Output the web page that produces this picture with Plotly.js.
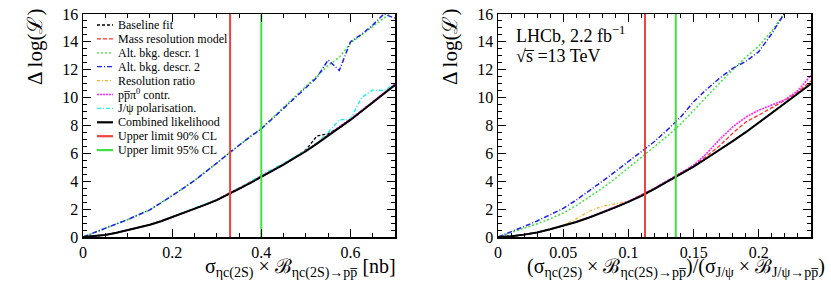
<!DOCTYPE html>
<html><head><meta charset="utf-8">
<script src="https://cdn.plot.ly/plotly-3.0.1.min.js"></script>
<style>html,body{margin:0;padding:0;background:#fff}</style>
</head><body><div id="chart" style="width:831px;height:282px"></div>
<script>
// ---------- data: left panel (sigma x B [nb]) ----------
const leftX = [0,0.025,0.05,0.075,0.1,0.125,0.15,0.175,0.2,0.225,0.25,0.275,0.3,0.325,0.35,0.375,0.4,0.425,0.45,0.475,0.5,0.525,0.55,0.575,0.6,0.625,0.65,0.675,0.7];
const leftCombined   = [0,0.05,0.15,0.3,0.48,0.67,0.88,1.13,1.42,1.7,2.0,2.32,2.65,3.03,3.45,3.87,4.3,4.75,5.2,5.67,6.15,6.7,7.25,7.82,8.4,9.02,9.65,10.27,10.9];
const leftBaseline   = [0,0.05,0.15,0.3,0.48,0.67,0.88,1.13,1.42,1.7,2.0,2.32,2.65,3.03,3.45,3.87,4.3,4.75,5.2,5.7,6.25,7.25,7.4,7.85,8.4,9.02,9.65,10.27,10.9];
const leftMassRes    = [0,0.05,0.15,0.3,0.48,0.67,0.88,1.13,1.42,1.7,2.0,2.32,2.68,3.1,3.5,3.9,4.33,4.77,5.22,5.69,6.17,6.72,7.28,7.85,8.43,9.05,9.68,10.3,10.95];
const leftAltBkg1    = [0,0.3,0.6,0.9,1.25,1.6,1.95,2.45,2.95,3.5,4.05,4.65,5.3,5.95,6.6,7.2,7.8,8.55,9.3,10.05,10.75,11.5,12.3,12.9,13.9,14.5,15.1,15.7,16.3];
const leftAltBkg2    = [0,0.3,0.6,0.9,1.25,1.6,1.95,2.45,2.95,3.5,4.05,4.65,5.3,5.95,6.6,7.2,7.75,8.5,9.25,10.0,10.7,11.45,12.7,11.95,14.0,14.55,15.2,16.0,15.7];
const leftResRatio   = [0,0.05,0.15,0.3,0.48,0.67,0.88,1.13,1.42,1.7,2.0,2.32,2.65,3.05,3.47,3.9,4.33,4.77,5.22,5.69,6.17,6.72,7.27,7.84,8.42,9.04,9.67,10.3,10.95];
const leftPpPi0      = [0,0.05,0.15,0.3,0.48,0.67,0.88,1.13,1.42,1.7,2.0,2.33,2.67,3.05,3.47,3.9,4.33,4.78,5.23,5.7,6.18,6.73,7.3,7.87,8.45,9.07,9.7,10.33,10.98];
const leftJpsiPol    = [0,0.05,0.15,0.3,0.48,0.67,0.88,1.15,1.45,1.73,2.03,2.35,2.68,3.07,3.5,3.95,4.45,4.85,5.28,5.75,6.2,6.75,7.5,8.4,8.45,10.0,10.55,10.5,10.95];
const leftLimit90 = 0.33, leftLimit95 = 0.40;

// ---------- data: right panel (ratio to J/psi) ----------
const rightX = [0,0.01,0.02,0.03,0.04,0.05,0.06,0.07,0.08,0.09,0.1,0.11,0.12,0.13,0.14,0.15,0.16,0.17,0.18,0.19,0.2,0.21,0.22,0.23,0.24];
const rightCombined  = [0,0.05,0.17,0.33,0.55,0.8,1.08,1.4,1.75,2.13,2.52,2.95,3.45,3.98,4.5,5.05,5.65,6.25,6.88,7.52,8.2,8.9,9.6,10.3,11.0];
const rightBaseline  = [0,0.05,0.17,0.33,0.55,0.8,1.08,1.4,1.75,2.13,2.52,2.95,3.45,3.98,4.5,5.05,5.65,6.25,6.88,7.52,8.2,8.9,9.6,10.3,11.0];
const rightMassRes   = [0,0.05,0.17,0.33,0.55,0.8,1.08,1.4,1.75,2.13,2.55,3.0,3.5,4.02,4.55,5.12,5.8,6.55,7.45,8.25,8.75,9.25,9.8,10.4,11.2];
const rightAltBkg1   = [0,0.3,0.6,0.95,1.3,1.72,2.25,2.85,3.5,4.2,4.95,5.7,6.5,7.25,8.1,9.1,10.05,11.05,12.0,12.9,13.7,14.8,16.1,null,null];
const rightAltBkg2   = [0,0.35,0.75,1.15,1.6,2.05,2.65,3.3,4.0,4.7,5.4,6.1,6.85,7.7,8.6,9.7,10.6,11.4,12.1,12.6,13.3,14.6,16.1,null,null];
const rightResRatio  = [0,0.05,0.17,0.33,0.55,0.85,1.3,1.85,2.2,2.35,2.55,2.97,3.46,3.98,4.5,5.05,5.65,6.25,6.88,7.52,8.2,8.9,9.6,10.3,11.0];
const rightPpPi0     = [0,0.05,0.17,0.33,0.55,0.8,1.08,1.42,1.78,2.17,2.57,3.0,3.5,4.03,4.56,5.15,6.0,7.0,7.9,8.6,9.1,9.5,9.85,10.5,11.6];
const rightJpsiPol   = [0,0.05,0.17,0.33,0.55,0.8,1.08,1.4,1.75,2.13,2.52,2.95,3.45,3.98,4.5,5.05,5.65,6.25,6.88,7.52,8.2,8.9,9.6,10.3,11.0];
const rightLimit90 = 0.1127, rightLimit95 = 0.1363;

const yRange = [0, 16];
const seriesNames = ['Baseline fit','Mass resolution model','Alt. bkg. descr. 1','Alt. bkg. descr. 2','Resolution ratio','pp\u0305\u03c0<sup>0</sup> contr.','J/\u03c8 polarisation.','Combined likelihood','Upper limit 90% CL','Upper limit 95% CL'];

// ---------- styles ----------
const styles = [
  {color:'#000000', dash:'3px,2px', width:1.3},
  {color:'#ff3030', dash:'4px,2px', width:1.3},
  {color:'#40e040', dash:'2px,2px', width:1.5},
  {color:'#2020f0', dash:'5px,2px,1px,2px', width:1.5},
  {color:'#ffb020', dash:'3px,2px,1px,2px', width:1.3},
  {color:'#ff20ff', dash:'2px,1px', width:1.6},
  {color:'#20f0f0', dash:'4px,2px,1px,2px', width:1.5},
  {color:'#000000', dash:'solid', width:2},
  {color:'#f04040', dash:'solid', width:2},
  {color:'#40e040', dash:'solid', width:2}
];
const leftSeries = [leftBaseline,leftMassRes,leftAltBkg1,leftAltBkg2,leftResRatio,leftPpPi0,leftJpsiPol,leftCombined];
const rightSeries = [rightBaseline,rightMassRes,rightAltBkg1,rightAltBkg2,rightResRatio,rightPpPi0,rightJpsiPol,rightCombined];

const traces = [];
function addPanel(xs, series, lim90, lim95, xa, ya) {
  series.forEach((ys, i) => {
    traces.push({x: xs, y: ys, xaxis: xa, yaxis: ya, mode: 'lines', name: seriesNames[i], showlegend: false,
      line: {color: styles[i].color, dash: styles[i].dash, width: styles[i].width}, hoverinfo: 'skip'});
  });
  [lim90, lim95].forEach((v, k) => {
    const s = styles[8 + k];
    traces.push({x: [v, v], y: yRange, xaxis: xa, yaxis: ya, mode: 'lines', name: seriesNames[8 + k], showlegend: false,
      line: {color: s.color, width: s.width}, hoverinfo: 'skip'});
  });
}
addPanel(leftX, leftSeries, leftLimit90, leftLimit95, 'x', 'y');
addPanel(rightX, rightSeries, rightLimit90, rightLimit95, 'x2', 'y2');

// ---------- layout ----------
const L = 83, R = 20, T = 14, B = 45, W = 831, H = 282;
const PW = W - L - R, PH = H - T - B;
const PX = p => (p - L) / PW;
const PY = p => (T + PH - p) / PH;
const FONT = '"Liberation Serif", "DejaVu Serif", serif';

function xAxis(range, dtick, minor, domain, anchor) {
  return {range, domain, anchor, dtick, tick0: 0, showline: true, linecolor: '#000', linewidth: 1.5, mirror: 'ticks',
    ticks: 'inside', ticklen: 8, tickwidth: 1, tickcolor: '#000', showgrid: false, zeroline: false,
    minor: {ticks: 'inside', ticklen: 4, tickwidth: 1, dtick: minor, tickcolor: '#000', showgrid: false},
    tickfont: {family: FONT, size: 16, color: '#000'}, fixedrange: true};
}
function yAxis(anchor) {
  return {range: yRange, domain: [0, 1], anchor, dtick: 2, tick0: 0, showline: true, linecolor: '#000', linewidth: 1.5, mirror: 'ticks',
    ticks: 'inside', ticklen: 8, tickwidth: 1, tickcolor: '#000', showgrid: false, zeroline: false,
    minor: {ticks: 'inside', ticklen: 4, tickwidth: 1, dtick: 0.5, tickcolor: '#000', showgrid: false},
    tickfont: {family: FONT, size: 16, color: '#000'}, fixedrange: true};
}

const annotations = [];
const shapes = [];
// y titles
[35, 450].forEach(px => annotations.push({xref: 'paper', yref: 'paper', x: PX(px), y: PY(47), text: '\u0394 log(\u2112)',
  textangle: -90, showarrow: false, xanchor: 'center', yanchor: 'middle', font: {family: FONT, size: 21, color: '#000'}}));
// x titles
annotations.push({xref: 'paper', yref: 'paper', x: PX(398), y: PY(268), xanchor: 'right', yanchor: 'middle', showarrow: false,
  text: '\u03c3<sub>\u03b7c(2S)</sub> \u00d7 \u212c<sub>\u03b7c(2S)\u2192pp\u0305</sub> [nb]',
  font: {family: FONT, size: 20, color: '#000'}});
annotations.push({xref: 'paper', yref: 'paper', x: PX(827), y: PY(268), xanchor: 'right', yanchor: 'middle', showarrow: false,
  text: '(\u03c3<sub>\u03b7c(2S)</sub> \u00d7 \u212c<sub>\u03b7c(2S)\u2192pp\u0305</sub>)/(\u03c3<sub>J/\u03c8</sub> \u00d7 \u212c<sub>J/\u03c8\u2192pp\u0305</sub>)',
  font: {family: FONT, size: 20, color: '#000'}});
// LHCb label
annotations.push({xref: 'paper', yref: 'paper', x: PX(514), y: PY(34), xanchor: 'left', yanchor: 'middle', showarrow: false,
  text: 'LHCb, 2.2 fb<sup>\u22121</sup>', font: {family: FONT, size: 18, color: '#000'}});
annotations.push({xref: 'paper', yref: 'paper', x: PX(514), y: PY(56), xanchor: 'left', yanchor: 'middle', showarrow: false,
  text: '\u221as\u0305 =13 TeV', font: {family: FONT, size: 18, color: '#000'}});
// manual legend (left panel)
seriesNames.forEach((name, i) => {
  const yc = 25 + i * 13.9;
  const s = styles[i];
  shapes.push({type: 'line', xref: 'paper', yref: 'paper', x0: PX(97), x1: PX(113), y0: PY(yc), y1: PY(yc),
    line: {color: s.color, width: i >= 7 ? 2.2 : 1.3, dash: s.dash}});
  annotations.push({xref: 'paper', yref: 'paper', x: PX(115.5), y: PY(yc), xanchor: 'left', yanchor: 'middle', showarrow: false,
    text: name, font: {family: FONT, size: 12, color: '#000'}});
});

const layout = {
  width: W, height: H, margin: {l: L, r: R, t: T, b: B}, paper_bgcolor: '#fff', plot_bgcolor: '#fff', showlegend: false,
  xaxis: xAxis([0, 0.7], 0.2, 0.05, [0, PX(395)], 'y'),
  yaxis: yAxis('x'),
  xaxis2: xAxis([0, 0.24], 0.05, 0.01, [PX(498), 1], 'y2'),
  yaxis2: yAxis('x2'),
  annotations, shapes
};
Plotly.newPlot('chart', traces, layout, {staticPlot: true, displayModeBar: false});
</script></body></html>
